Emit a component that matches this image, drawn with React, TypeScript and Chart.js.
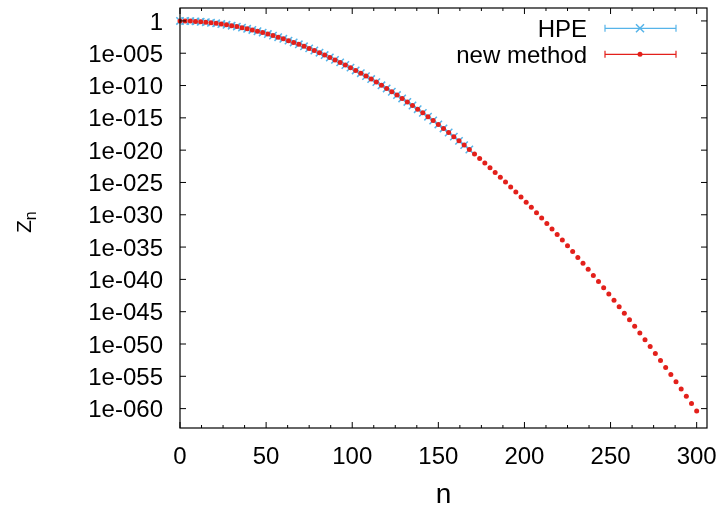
import React, { useEffect, useRef } from "react";
import { Chart, registerables } from "chart.js";

Chart.register(...registerables);

// n values (step 3)
const nValues = [
  0, 3, 6, 9, 12, 15, 18, 21, 24, 27, 30, 33, 36, 39, 42, 45, 48, 51, 54, 57,
  60, 63, 66, 69, 72, 75, 78, 81, 84, 87, 90, 93, 96, 99, 102, 105, 108, 111, 114, 117,
  120, 123, 126, 129, 132, 135, 138, 141, 144, 147, 150, 153, 156, 159, 162, 165, 168, 171, 174, 177,
  180, 183, 186, 189, 192, 195, 198, 201, 204, 207, 210, 213, 216, 219, 222, 225, 228, 231, 234, 237,
  240, 243, 246, 249, 252, 255, 258, 261, 264, 267, 270, 273, 276, 279, 282, 285, 288, 291, 294, 297, 300,
];

// log10(Z_n), new method
const newMethodLog10 = [
  0, -0.01, -0.03, -0.07, -0.13, -0.2, -0.28, -0.37, -0.48, -0.6, -0.74, -0.88, -1.04, -1.22, -1.4, -1.6, -1.81, -2.03, -2.27, -2.52,
  -2.77, -3.05, -3.33, -3.62, -3.93, -4.25, -4.58, -4.92, -5.28, -5.65, -6.03, -6.42, -6.82, -7.23, -7.66, -8.09, -8.54, -9.0, -9.47, -9.96,
  -10.45, -10.96, -11.47, -12.0, -12.54, -13.09, -13.66, -14.23, -14.82, -15.41, -16.02, -16.64, -17.27, -17.91, -18.56, -19.22, -19.9, -20.59, -21.28, -21.99,
  -22.71, -23.44, -24.18, -24.93, -25.69, -26.47, -27.25, -28.05, -28.85, -29.67, -30.5, -31.34, -32.19, -33.05, -33.92, -34.81, -35.7, -36.6, -37.52, -38.45,
  -39.38, -40.34, -41.29, -42.26, -43.23, -44.23, -45.23, -46.24, -47.26, -48.3, -49.34, -50.4, -51.46, -52.54, -53.63, -54.72, -55.83, -56.95, -58.08, -59.21, -60.37,
];

// HPE values (n = 0 .. 168)
const hpeN = [
  0, 3, 6, 9, 12, 15, 18, 21, 24, 27, 30, 33, 36, 39, 42, 45, 48, 51, 54, 57,
  60, 63, 66, 69, 72, 75, 78, 81, 84, 87, 90, 93, 96, 99, 102, 105, 108, 111, 114, 117,
  120, 123, 126, 129, 132, 135, 138, 141, 144, 147, 150, 153, 156, 159, 162, 165, 168,
];
const hpeLog10 = [
  0, -0.01, -0.03, -0.07, -0.13, -0.2, -0.28, -0.37, -0.48, -0.6, -0.74, -0.88, -1.04, -1.22, -1.4, -1.6, -1.81, -2.03, -2.27, -2.52,
  -2.77, -3.05, -3.33, -3.62, -3.93, -4.25, -4.58, -4.92, -5.28, -5.65, -6.03, -6.42, -6.82, -7.23, -7.66, -8.09, -8.54, -9.0, -9.47, -9.96,
  -10.45, -10.96, -11.47, -12.0, -12.54, -13.09, -13.66, -14.23, -14.82, -15.41, -16.02, -16.64, -17.27, -17.91, -18.56, -19.22, -19.9,
];

const xTicks = [0, 50, 100, 150, 200, 250, 300];
const xTickLabels = ["0", "50", "100", "150", "200", "250", "300"];
const yTickExponents = [0, -5, -10, -15, -20, -25, -30, -35, -40, -45, -50, -55, -60];
const yTickLabels = [
  "1", "1e-005", "1e-010", "1e-015", "1e-020", "1e-025", "1e-030",
  "1e-035", "1e-040", "1e-045", "1e-050", "1e-055", "1e-060",
];

const RED = "#e3201b";
const BLUE = "#56b4e9";
const FONT = '"Liberation Sans", Arial, sans-serif';

const framePlugin = {
  id: "gnuplotFrame",
  afterDraw(chart: any) {
    const ctx = chart.ctx as CanvasRenderingContext2D;
    const { left, right, top, bottom } = chart.chartArea;
    const xs = chart.scales.x;
    const ys = chart.scales.y;
    ctx.save();
    ctx.strokeStyle = "#000";
    ctx.lineWidth = 1.2;
    ctx.strokeRect(left, top, right - left, bottom - top);

    ctx.lineWidth = 1;
    for (let i = 0; i < xTicks.length; i++) {
      const v = xTicks[i];
      const px = xs.getPixelForValue(v);
      ctx.beginPath();
      ctx.moveTo(px, bottom); ctx.lineTo(px, bottom - 6);
      ctx.moveTo(px, top); ctx.lineTo(px, top + 6);
      ctx.stroke();
      for (let k = 1; k < 4; k++) {
        const mv = v + k * 12.5;
        const mp = xs.getPixelForValue(mv);
        if (mp > right) continue;
        ctx.beginPath();
        ctx.moveTo(mp, bottom); ctx.lineTo(mp, bottom - 3);
        ctx.moveTo(mp, top); ctx.lineTo(mp, top + 3);
        ctx.stroke();
      }
    }
    for (const e of yTickExponents) {
      const py = ys.getPixelForValue(Math.pow(10, e));
      ctx.beginPath();
      ctx.moveTo(left, py); ctx.lineTo(left + 6, py);
      ctx.moveTo(right, py); ctx.lineTo(right - 6, py);
      ctx.stroke();
    }

    ctx.fillStyle = "#000";
    ctx.font = `24px ${FONT}`;
    ctx.textBaseline = "alphabetic";
    ctx.textAlign = "center";
    xTicks.forEach((v, i) => {
      ctx.fillText(xTickLabels[i], xs.getPixelForValue(v), 464);
    });
    ctx.textAlign = "right";
    yTickExponents.forEach((e, i) => {
      const py = ys.getPixelForValue(Math.pow(10, e));
      ctx.fillText(yTickLabels[i], 163, py + 8.6);
    });

    // axis titles
    ctx.textAlign = "center";
    ctx.font = `28px ${FONT}`;
    ctx.fillText("n", (left + right) / 2, 503);

    ctx.save();
    ctx.translate(31, 233);
    ctx.rotate(-Math.PI / 2);
    ctx.textAlign = "left";
    ctx.font = `21px ${FONT}`;
    ctx.fillText("Z", 0, 0);
    const zw = ctx.measureText("Z").width;
    ctx.font = `16px ${FONT}`;
    ctx.fillText("n", zw, 5);
    ctx.restore();

    // legend
    ctx.font = `24px ${FONT}`;
    ctx.textAlign = "right";
    ctx.fillText("HPE", 587, 37.3);
    ctx.fillText("new method", 587, 63.3);

    const drawErr = (y: number, color: string) => {
      ctx.strokeStyle = color;
      ctx.lineWidth = 1.2;
      ctx.beginPath();
      ctx.moveTo(605, y); ctx.lineTo(676, y);
      ctx.moveTo(605, y - 3.5); ctx.lineTo(605, y + 3.5);
      ctx.moveTo(676, y - 3.5); ctx.lineTo(676, y + 3.5);
      ctx.stroke();
    };
    drawErr(28.3, BLUE);
    ctx.strokeStyle = BLUE;
    ctx.lineWidth = 1.5;
    ctx.beginPath();
    ctx.moveTo(636, 24.3); ctx.lineTo(644, 32.3);
    ctx.moveTo(636, 32.3); ctx.lineTo(644, 24.3);
    ctx.stroke();
    drawErr(54.3, RED);
    ctx.fillStyle = RED;
    ctx.beginPath();
    ctx.arc(640, 54.3, 2.5, 0, Math.PI * 2);
    ctx.fill();

    ctx.restore();
  },
};

export default function App() {
  const canvasRef = useRef<HTMLCanvasElement | null>(null);

  useEffect(() => {
    const canvas = canvasRef.current;
    if (!canvas) return;
    const newData = nValues.map((n, i) => ({ x: n, y: Math.pow(10, newMethodLog10[i]) }));
    const hpeData = hpeN.map((n, i) => ({ x: n, y: Math.pow(10, hpeLog10[i]) }));
    const chart = new Chart(canvas, {
      type: "scatter",
      data: {
        datasets: [
          {
            label: "HPE",
            data: hpeData,
            pointStyle: "crossRot",
            pointRadius: 5.2,
            borderColor: BLUE,
            backgroundColor: BLUE,
            borderWidth: 1.5,
            showLine: false,
            order: 2,
            clip: false,
          } as any,
          {
            label: "new method",
            data: newData,
            pointStyle: "circle",
            pointRadius: 2.5,
            borderWidth: 0,
            borderColor: RED,
            backgroundColor: RED,
            showLine: false,
            order: 1,
            clip: false,
          } as any,
        ],
      },
      options: {
        animation: false,
        responsive: false,
        events: [],
        layout: { padding: { top: 8, right: 18, left: 0, bottom: 0 } },
        plugins: {
          legend: { display: false },
          tooltip: { enabled: false },
        },
        scales: {
          x: {
            type: "linear",
            min: 0,
            max: 306,
            grid: { display: false, drawTicks: false },
            border: { display: false },
            ticks: { display: false },
            afterFit: (s: any) => { s.height = 78; },
          },
          y: {
            type: "logarithmic",
            min: 1e-63,
            max: 1e2,
            grid: { display: false, drawTicks: false },
            border: { display: false },
            ticks: { display: false },
            afterFit: (s: any) => { s.width = 180; },
          },
        },
      },
      plugins: [framePlugin],
    });
    return () => chart.destroy();
  }, []);

  return (
    <div style={{ position: "absolute", left: 0, top: 0, width: 725, height: 506, background: "#fff" }}>
      <canvas ref={canvasRef} width={725} height={506} style={{ display: "block", width: 725, height: 506 }} />
    </div>
  );
}
